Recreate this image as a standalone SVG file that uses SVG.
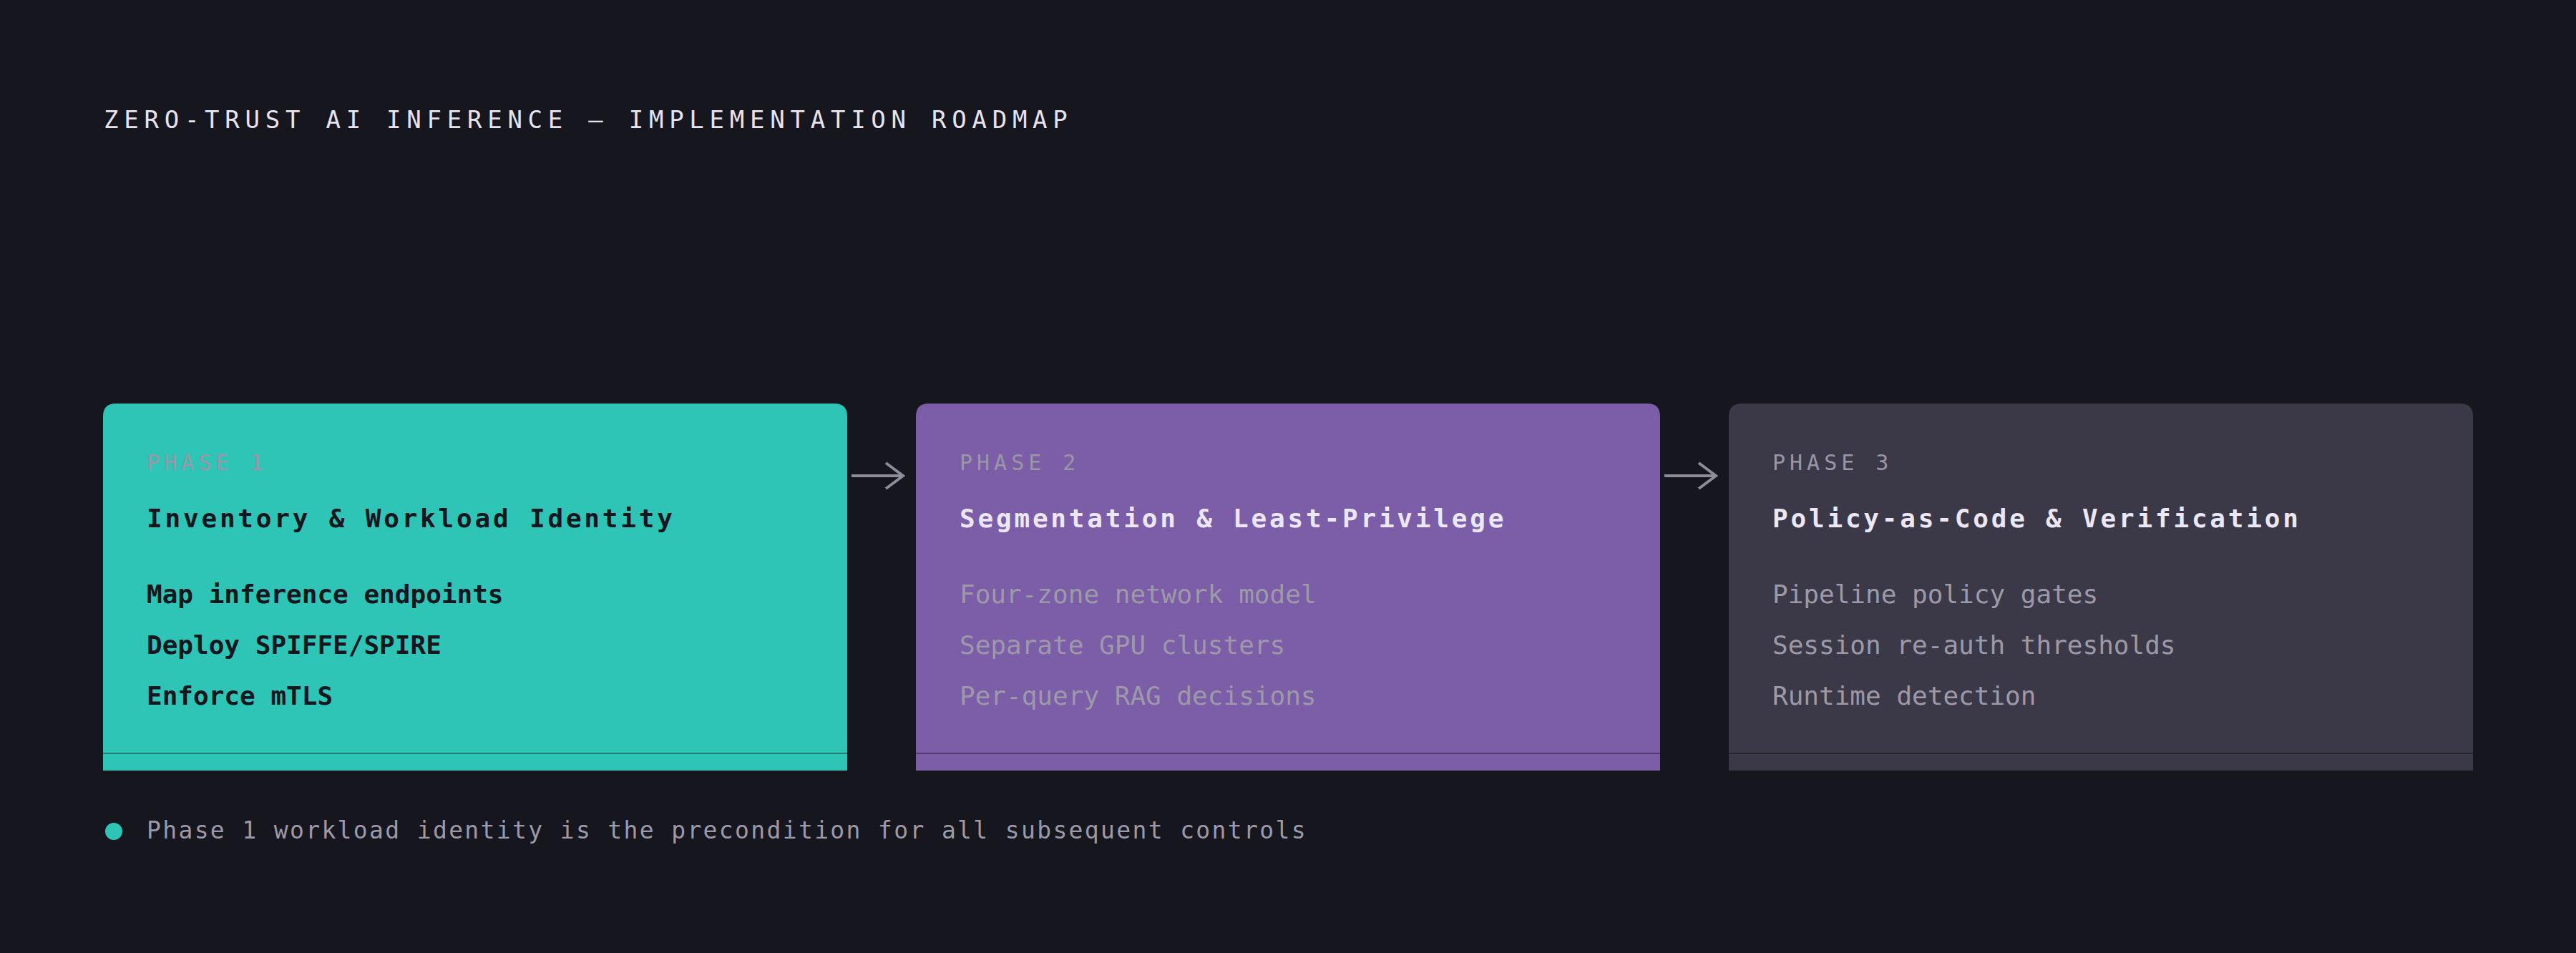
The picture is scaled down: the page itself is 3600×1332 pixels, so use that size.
<svg xmlns="http://www.w3.org/2000/svg" width="3600" height="1332" viewBox="0 0 3600 1332">
<style>
text{font-family:"DejaVu Sans Mono","Liberation Mono",monospace;}
.title{font-size:34px;letter-spacing:7.75px;fill:#e6e3ef;}
.phase{font-size:30px;letter-spacing:6px;fill:#9a96a6;}
.head{font-size:36px;letter-spacing:3.8px;font-weight:700;}
.item{font-size:36px;}
.dark{fill:#16161f;}
.light{fill:#ebe7f4;}
.muted{fill:#9d99a9;}
.foot{font-size:33px;letter-spacing:2.35px;fill:#9d99a9;}
.conn{fill:none;stroke:#8f8b99;stroke-width:4;stroke-linecap:butt;stroke-linejoin:miter;}
.rule{stroke:#000;stroke-opacity:0.35;stroke-width:2;}
</style>
<rect width="3600" height="1332" fill="#16161f"/>
<text class="title" x="145" y="179">ZERO-TRUST AI INFERENCE — IMPLEMENTATION ROADMAP</text>

<g id="phase1">
<path d="M144 1077 V582 Q144 564 162 564 H1166 Q1184 564 1184 582 V1077 Z" fill="#2ec4b6"/>
<line class="rule" x1="144" y1="1053" x2="1184" y2="1053"/>
<text class="phase" x="205" y="657">PHASE 1</text>
<text class="head dark" x="205" y="737">Inventory &amp; Workload Identity</text>
<text class="item dark" font-weight="700" x="205" y="843">Map inference endpoints</text>
<text class="item dark" font-weight="700" x="205" y="914">Deploy SPIFFE/SPIRE</text>
<text class="item dark" font-weight="700" x="205" y="985">Enforce mTLS</text>
</g>

<g id="phase2">
<path d="M1280 1077 V582 Q1280 564 1298 564 H2302 Q2320 564 2320 582 V1077 Z" fill="#7b5ea7"/>
<line class="rule" x1="1280" y1="1053" x2="2320" y2="1053"/>
<text class="phase" x="1341" y="657">PHASE 2</text>
<text class="head light" x="1341" y="737">Segmentation &amp; Least-Privilege</text>
<text class="item muted" x="1341" y="843">Four-zone network model</text>
<text class="item muted" x="1341" y="914">Separate GPU clusters</text>
<text class="item muted" x="1341" y="985">Per-query RAG decisions</text>
</g>

<g id="phase3">
<path d="M2416 1077 V582 Q2416 564 2434 564 H3438 Q3456 564 3456 582 V1077 Z" fill="#3b3947"/>
<line class="rule" x1="2416" y1="1053" x2="3456" y2="1053"/>
<text class="phase" x="2477" y="657">PHASE 3</text>
<text class="head light" x="2477" y="737">Policy-as-Code &amp; Verification</text>
<text class="item muted" x="2477" y="843">Pipeline policy gates</text>
<text class="item muted" x="2477" y="914">Session re-auth thresholds</text>
<text class="item muted" x="2477" y="985">Runtime detection</text>
</g>

<g id="connectors">
<path class="conn" d="M1190 665 H1262 M1238 647 L1262 665 L1238 683"/>
<path class="conn" d="M2326 665 H2398 M2374 647 L2398 665 L2374 683"/>
</g>

<g id="note">
<circle cx="159" cy="1162" r="12" fill="#2ec4b6"/>
<text class="foot" x="205" y="1172">Phase 1 workload identity is the precondition for all subsequent controls</text>
</g>
</svg>
